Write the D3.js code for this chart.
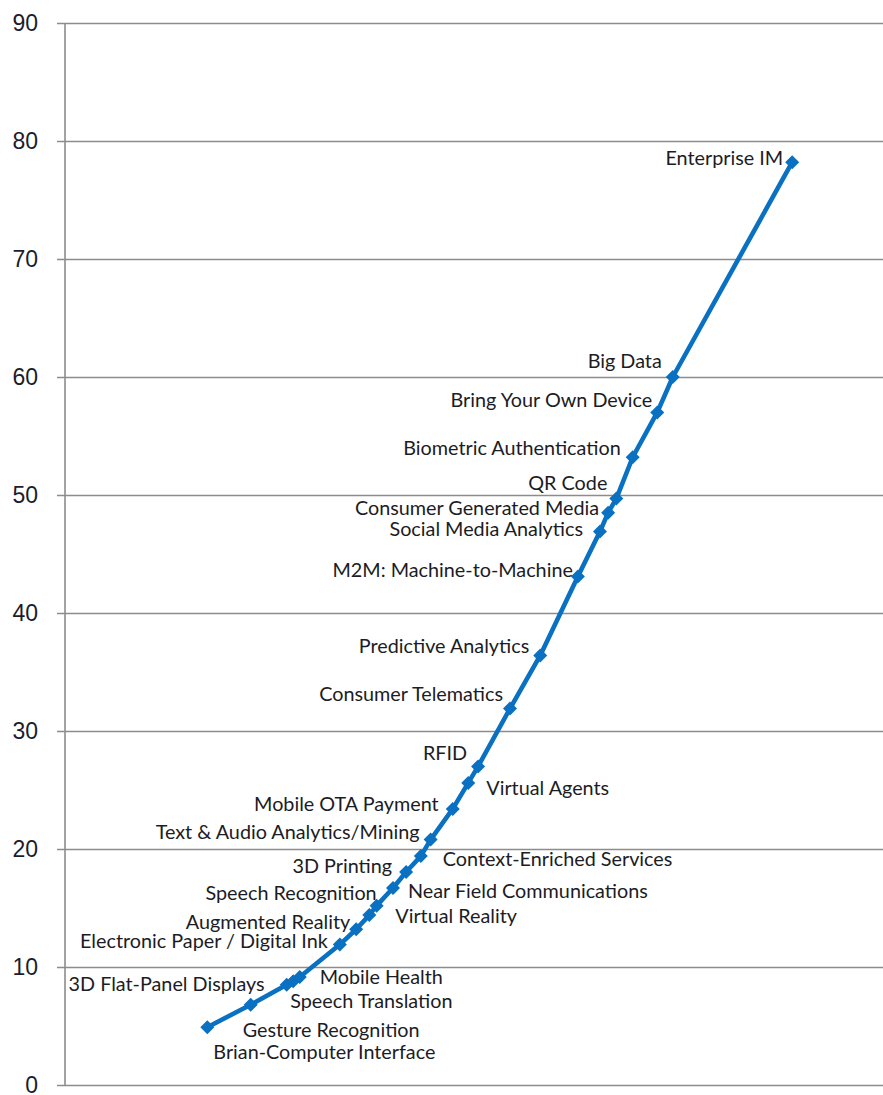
<!DOCTYPE html>
<html>
<head>
<meta charset="utf-8">
<script src="https://cdn.jsdelivr.net/npm/d3@7"></script>
<style>
  html, body { margin: 0; padding: 0; background: #fff; }
  svg { display: block; }
  .tick-label { font-family: "Liberation Sans", Arial, sans-serif; font-size: 23px; fill: #1c1c2e; }
  .point-label { font-family: Lato, "Open Sans", sans-serif; font-size: 19.8px; fill: #1c1c24; }
</style>
</head>
<body>
<svg id="chart" width="883" height="1095"></svg>
<script>
// Technologies, ordered along the curve
const categories = [
  "Brian-Computer Interface", "Gesture Recognition", "3D Flat-Panel Displays",
  "Speech Translation", "Mobile Health", "Electronic Paper / Digital Ink",
  "Augmented Reality", "Virtual Reality", "Speech Recognition",
  "Near Field Communications", "3D Printing", "Context-Enriched Services",
  "Text & Audio Analytics/Mining", "Mobile OTA Payment", "Virtual Agents",
  "RFID", "Consumer Telematics", "Predictive Analytics",
  "M2M: Machine-to-Machine", "Social Media Analytics", "Consumer Generated Media",
  "QR Code", "Biometric Authentication", "Bring Your Own Device",
  "Big Data", "Enterprise IM"
];
const xValues = [
  17.4, 22.7, 27.1, 27.9, 28.7, 33.6, 35.6, 37.2, 38.1, 40.1, 41.7, 43.5, 44.7,
  47.4, 49.3, 50.5, 54.4, 58.1, 62.7, 65.4, 66.4, 67.4, 69.4, 72.4, 74.3, 88.9
];
const yValues = [
  4.9, 6.8, 8.5, 8.8, 9.15, 11.9, 13.2, 14.4, 15.2, 16.7, 18.05, 19.4, 20.8,
  23.4, 25.6, 27.0, 31.9, 36.4, 43.1, 46.9, 48.5, 49.7, 53.2, 57.0, 60.0, 78.2
];
const yTicks = [0, 10, 20, 30, 40, 50, 60, 70, 80, 90];

// Label placement relative to each marker (side, offset in px)
const labelLayout = [
  ["start", 6, 25], ["start", -8, 25], ["end", -22, -1],
  ["start", -3, 20], ["start", 20, 0], ["end", -12, -4],
  ["end", -6, -7], ["start", 26, 1], ["end", 0, -13],
  ["start", 15, 3], ["end", -14, -6], ["start", 22, 3],
  ["end", -11, -7], ["end", -14, -5], ["start", 18, 5],
  ["end", -11, -13], ["end", -7, -15], ["end", -11, -9],
  ["end", -5, -6], ["end", -17, -3], ["end", -9, -5],
  ["end", -9, -15], ["end", -12, -9], ["end", -5, -12],
  ["end", -11, -16], ["end", -9, -4]
];

const svg = d3.select("#chart");
const plot = { left: 65, right: 883, top: 23, bottom: 1085 };

const x = d3.scaleLinear().domain([0, 100]).range([plot.left, plot.right]);
const y = d3.scaleLinear().domain([0, 90]).range([plot.bottom, plot.top]);

const gridColor = "#8c8c8c";

// Horizontal gridlines with short outer ticks
const yAxis = d3.axisLeft(y)
  .tickValues(yTicks)
  .tickSize(-(plot.right - plot.left))
  .tickSizeOuter(0)
  .tickFormat(d3.format("d"));

const gy = svg.append("g")
  .attr("transform", `translate(${plot.left},0)`)
  .call(yAxis);
gy.select(".domain").remove();
gy.selectAll(".tick line")
  .attr("x1", -8)
  .attr("stroke", gridColor)
  .attr("stroke-width", 1.6);
gy.selectAll(".tick text")
  .attr("class", "tick-label")
  .attr("x", -27)
  .attr("dy", "0.33em")
  .attr("font-size", null)
  .attr("font-family", null)
  .attr("fill", null);

// Vertical axis line
svg.append("line")
  .attr("x1", plot.left).attr("x2", plot.left)
  .attr("y1", y(90)).attr("y2", y(0))
  .attr("stroke", gridColor)
  .attr("stroke-width", 1.6);

const points = categories.map((name, i) => ({ name, x: xValues[i], y: yValues[i], layout: labelLayout[i] }));

// Connecting line
const line = d3.line().x(d => x(d.x)).y(d => y(d.y));
svg.append("path")
  .datum(points)
  .attr("d", line)
  .attr("fill", "none")
  .attr("stroke", "#0a70c2")
  .attr("stroke-width", 4.6)
  .attr("stroke-linejoin", "round");

// Diamond markers
const diamond = d3.symbol().type(d3.symbolDiamond2).size(125);
svg.append("g").selectAll("path")
  .data(points)
  .join("path")
  .attr("d", diamond)
  .attr("transform", d => `translate(${x(d.x)},${y(d.y)})`)
  .attr("fill", "#0a70c2");

// Point labels
svg.append("g").selectAll("text")
  .data(points)
  .join("text")
  .attr("class", "point-label")
  .attr("x", d => x(d.x) + d.layout[1])
  .attr("y", d => y(d.y) + d.layout[2])
  .attr("dy", "0.35em")
  .attr("text-anchor", d => d.layout[0])
  .text(d => d.name);
</script>
</body>
</html>
